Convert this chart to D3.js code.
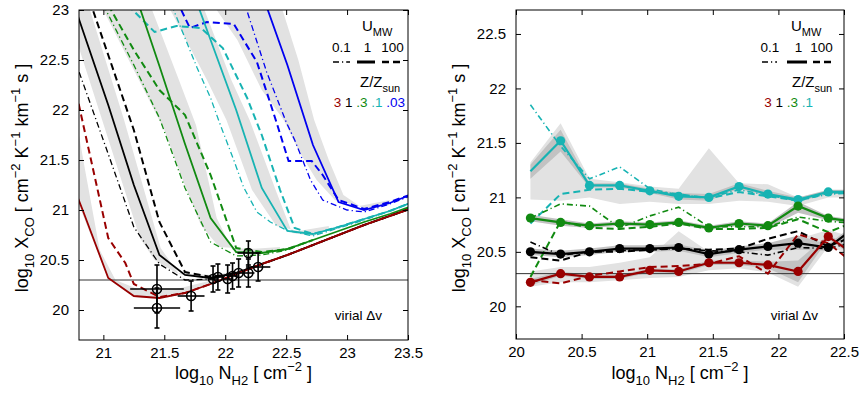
<!DOCTYPE html>
<html><head><meta charset="utf-8">
<script src="https://cdn.jsdelivr.net/npm/d3@7"></script>
<style>
body{margin:0;background:#fff}
text{font-family:"Liberation Sans",Arial,Helvetica,sans-serif;white-space:pre}
</style></head>
<body><svg id="c" width="862" height="393"></svg>
<script>
// ---------------- DATA ----------------
// tick labels
const leftTicksX = [21, 21.5, 22, 22.5, 23, 23.5];
const leftTicksY = [20, 20.5, 21, 21.5, 22, 22.5, 23];
const rightTicksX = [20, 20.5, 21, 21.5, 22, 22.5];
const rightTicksY = [20, 20.5, 21, 21.5, 22, 22.5];
const virialX = 20.3;

// LEFT panel model curves: [log N_H2, log X_CO]
const z3U1 = [[20.62,21.65],[20.83,21.0],[21.04,20.32],[21.25,20.14],[21.46,20.12],[21.67,20.17],[21.88,20.26],[22.09,20.36],[22.30,20.46],[22.51,20.55],[22.72,20.65],[22.93,20.75],[23.14,20.85],[23.35,20.94],[23.56,21.03]];
const z3U100 = [[20.70,22.6],[20.83,21.88],[21.04,20.72],[21.18,20.47],[21.25,20.26],[21.46,20.13],[21.67,20.17],[21.88,20.26],[22.09,20.36],[22.30,20.46],[22.51,20.55],[22.72,20.65],[22.93,20.75],[23.14,20.85],[23.35,20.94],[23.56,21.03]];
const z1U1 = [[20.62,23.55],[20.83,22.8],[21.04,22.05],[21.25,21.25],[21.46,20.55],[21.67,20.35],[21.88,20.32],[22.09,20.37],[22.30,20.46],[22.51,20.55],[22.72,20.65],[22.93,20.75],[23.14,20.85],[23.35,20.94],[23.56,21.03]];
const z1U100 = [[20.83,23.3],[21.04,22.55],[21.25,21.8],[21.46,20.88],[21.67,20.38],[21.88,20.33],[22.09,20.37],[22.30,20.46],[22.51,20.55],[22.72,20.65],[22.93,20.75],[23.14,20.85],[23.35,20.94],[23.56,21.03]];
const z1U01 = [[20.62,23.0],[20.83,22.28],[21.04,21.56],[21.25,20.83],[21.46,20.46],[21.67,20.3],[21.88,20.31],[22.09,20.37],[22.30,20.46]];
const z03U1 = [[21.25,23.2],[21.46,22.44],[21.67,21.66],[21.88,20.92],[22.09,20.58],[22.30,20.57],[22.51,20.61],[22.72,20.70],[22.93,20.79],[23.14,20.88],[23.35,20.96],[23.56,21.05]];
const z03U100 = [[21.04,23.05],[21.25,22.6],[21.46,22.2],[21.67,21.95],[21.88,21.35],[22.09,20.62],[22.30,20.58],[22.51,20.61],[22.72,20.70]];
const z03U01 = [[21.00,23.05],[21.25,22.45],[21.46,21.92],[21.67,21.22],[21.88,20.68],[22.09,20.54],[22.30,20.55],[22.51,20.60],[22.72,20.70]];
const z01U1 = [[21.67,23.4],[21.88,22.7],[22.09,22.0],[22.30,21.22],[22.51,20.79],[22.72,20.76],[22.93,20.83],[23.14,20.91],[23.35,20.99],[23.56,21.09]];
const z01U100 = [[21.20,23.05],[21.42,22.78],[21.60,22.84],[21.80,22.82],[21.98,22.62],[22.18,22.12],[22.30,21.75],[22.45,21.2],[22.57,20.82],[22.72,20.76],[22.93,20.83],[23.14,20.91],[23.35,20.99],[23.56,21.09]];
const z01U01 = [[21.56,23.05],[21.67,22.72],[21.77,22.42],[21.88,22.12],[21.96,21.85],[22.07,21.5],[22.15,21.23],[22.26,20.98],[22.37,20.88],[22.50,20.8],[22.72,20.74],[22.93,20.82],[23.14,20.9],[23.35,20.99],[23.56,21.09]];
const z003U1 = [[22.30,23.17],[22.51,22.45],[22.72,21.65],[22.93,21.08],[23.14,21.0],[23.35,21.07],[23.56,21.17]];
const z003U100 = [[21.60,23.1],[21.71,22.82],[21.85,22.88],[22.07,22.86],[22.26,22.48],[22.42,21.88],[22.52,21.49],[22.71,21.49],[22.80,21.35],[22.93,21.1],[23.14,21.01],[23.35,21.08],[23.56,21.17]];
const z003U01 = [[22.15,23.1],[22.34,22.38],[22.50,21.88],[22.57,21.7],[22.70,21.3],[22.80,21.1],[23.00,21.0],[23.14,20.98],[23.35,21.06],[23.56,21.16]];

// LEFT panel grey bands (upper/left edge, lower/right edge)
const bandZ3Up = [[20.72,22.3],[20.85,21.4],[20.97,20.6],[21.10,20.3],[21.30,20.2],[21.60,20.21],[21.90,20.3]];
const bandZ3Lo = [[20.75,21.2],[21.04,20.31],[21.25,20.13],[21.46,20.11],[21.67,20.16],[21.90,20.26]];
const bandZ1Up = [[20.70,23.0],[20.99,21.9],[21.30,20.72],[21.42,20.5],[21.60,20.37],[21.90,20.35],[22.10,20.39]];
const bandZ1Lo = [[20.89,23.0],[21.17,21.9],[21.47,20.62],[21.62,20.36],[21.85,20.31],[22.10,20.36]];
const bandZ03Up = [[21.00,23.0],[21.25,22.4],[21.50,21.8],[21.62,21.4],[21.80,20.85],[21.95,20.63],[22.20,20.61],[22.45,20.63]];
const bandZ03Lo = [[21.40,23.0],[21.62,22.3],[21.76,21.85],[21.93,20.92],[22.06,20.6],[22.25,20.56],[22.45,20.59]];
const bandZ01Up = [[21.55,23.0],[21.85,22.3],[22.01,21.9],[22.22,21.2],[22.42,20.84],[22.60,20.79],[22.85,20.84]];
const bandZ01Lo = [[21.83,23.0],[22.05,22.3],[22.20,21.9],[22.42,21.18],[22.55,20.77],[22.72,20.74],[22.85,20.8]];
const bandZ003Up = [[21.93,23.0],[22.10,22.7],[22.30,22.2],[22.48,21.9],[22.60,21.6],[22.75,21.3],[22.90,21.1],[23.10,21.04],[23.35,21.1]];
const bandZ003Lo = [[22.47,23.0],[22.60,22.5],[22.73,21.9],[22.85,21.5],[22.97,21.15],[23.15,21.0],[23.35,21.05]];

// LEFT panel observations
const obsN    = [21.44, 21.44, 21.72, 21.90, 21.94, 22.02, 22.06, 22.11, 22.19, 22.19, 22.27];
const obsX    = [20.21, 20.02, 20.14, 20.31, 20.33, 20.31, 20.34, 20.37, 20.37, 20.57, 20.43];
const obsNerr = [0.22, 0.19, 0.11, 0.04, 0.04, 0.04, 0.04, 0.05, 0.05, 0.09, 0.10];
const obsXerr = [0.24, 0.20, 0.15, 0.13, 0.13, 0.14, 0.13, 0.14, 0.14, 0.12, 0.14];

// RIGHT panel: shared N grid
const rN = [20.11, 20.34, 20.56, 20.79, 21.02, 21.24, 21.47, 21.70, 21.92, 22.15, 22.38, 22.61];
const cyanU1   = [21.24, 21.52, 21.11, 21.11, 21.06, 21.01, 21.00, 21.10, 21.03, 20.98, 21.05, 21.05];
const cyanU100 = [20.76, 21.03, 21.07, 21.08, 21.05, 21.03, 20.99, 21.05, 21.01, 20.97, 21.04, 21.05];
const cyanU01  = [21.85, 21.47, 21.17, 21.28, 21.08, 21.02, 21.00, 21.07, 21.02, 20.97, 21.03, 21.04];
const greenU1   = [20.81, 20.77, 20.74, 20.76, 20.75, 20.77, 20.72, 20.76, 20.74, 20.92, 20.81, 20.77];
const greenU100 = [20.27, 20.78, 20.72, 20.71, 20.73, 20.76, 20.71, 20.71, 20.72, 20.80, 20.68, 20.79];
const greenU01  = [20.81, 20.94, 20.92, 20.72, 20.83, 20.91, 20.73, 20.73, 20.73, 20.82, 20.78, 20.76];
const blackU1   = [20.50, 20.48, 20.50, 20.53, 20.53, 20.54, 20.48, 20.52, 20.55, 20.58, 20.54, 20.75];
const blackU100 = [20.45, 20.42, 20.50, 20.50, 20.52, 20.53, 20.52, 20.53, 20.62, 20.69, 20.55, 20.66];
const blackU01  = [20.59, 20.47, 20.50, 20.51, 20.52, 20.53, 20.51, 20.50, 20.47, 20.54, 20.53, 20.60];
const redU1   = [20.22, 20.30, 20.27, 20.27, 20.33, 20.32, 20.40, 20.40, 20.38, 20.32, 20.64, 20.45];
const redU100 = [20.24, 20.21, 20.28, 20.32, 20.36, 20.37, 20.39, 20.46, 20.30, 20.66, 20.58, 20.36];
// RIGHT panel bands
const cyanLightUp = [21.32, 21.68, 21.17, 21.14, 21.10, 21.08, 21.45, 21.13, 21.12, 21.00, 21.06, 21.06];
const cyanLightLo = [20.98, 20.97, 21.00, 20.94, 20.96, 20.94, 20.94, 20.97, 20.96, 20.92, 21.00, 21.00];
const cyanDarkUp  = [21.30, 21.62, 21.13, 21.13, 21.08, 21.04, 21.03, 21.13, 21.06, 21.00, 21.07, 21.07];
const cyanDarkLo  = [21.17, 21.42, 21.09, 21.09, 21.04, 20.98, 20.97, 21.08, 21.01, 20.96, 21.03, 21.03];
const greenDarkUp = [20.84, 20.80, 20.76, 20.78, 20.77, 20.79, 20.74, 20.78, 20.76, 20.96, 20.83, 20.79];
const greenDarkLo = [20.78, 20.74, 20.72, 20.74, 20.73, 20.75, 20.70, 20.74, 20.72, 20.86, 20.79, 20.75];
const blackDarkUp = [20.53, 20.51, 20.53, 20.56, 20.56, 20.57, 20.51, 20.55, 20.58, 20.65, 20.57, 20.78];
const blackDarkLo = [20.47, 20.45, 20.47, 20.50, 20.50, 20.51, 20.45, 20.49, 20.52, 20.52, 20.51, 20.72];
const redLightUp = [20.32, 20.36, 20.36, 20.40, 20.45, 20.69, 20.50, 20.50, 20.55, 20.62, 20.70, 20.62];
const redLightLo = [20.18, 20.22, 20.22, 20.24, 20.26, 20.27, 20.33, 20.35, 20.31, 20.18, 20.55, 20.45];
const redDarkUp = [20.25, 20.32, 20.29, 20.29, 20.35, 20.34, 20.42, 20.42, 20.41, 20.42, 20.66, 20.50];
const redDarkLo = [20.19, 20.28, 20.25, 20.25, 20.31, 20.30, 20.38, 20.38, 20.35, 20.22, 20.62, 20.42];

// ---------------- STYLE ----------------
const COL = {z3:'#990000', z1:'#000000', z03:'#118a11', z01:'#17b3b3', z003:'#0000f0'};
const LIGHT = '#e2e2e2', DARK = '#c2c2c2';
const DASH = {solid:null, dash:'7,4', dashdot:'6,3,1.2,3'};
const FONT = '"Liberation Sans",Arial,Helvetica,sans-serif';

const svg = d3.select('#c');

function makePanel(id, dx, dy, rx, ry){
  const x = d3.scaleLinear().domain(dx).range(rx);
  const y = d3.scaleLinear().domain(dy).range(ry);
  svg.append('clipPath').attr('id', id).append('rect')
    .attr('x', rx[0]).attr('y', ry[1]).attr('width', rx[1]-rx[0]).attr('height', ry[0]-ry[1]);
  const g = svg.append('g');
  const plot = g.append('g').attr('clip-path', `url(#${id})`);
  return {x, y, g, plot};
}

function drawAxes(P, tx, ty){
  const {x, y, g} = P;
  const fmt = d => String(d);
  const ax = [
    g.append('g').attr('transform', `translate(0,${y.range()[0]})`).call(d3.axisBottom(x).tickValues(tx).tickSize(-5).tickPadding(7).tickFormat(fmt)),
    g.append('g').attr('transform', `translate(0,${y.range()[1]})`).call(d3.axisTop(x).tickValues(tx).tickSize(-5).tickFormat('')),
    g.append('g').attr('transform', `translate(${x.range()[0]},0)`).call(d3.axisLeft(y).tickValues(ty).tickSize(-5).tickPadding(10).tickFormat(fmt)),
    g.append('g').attr('transform', `translate(${x.range()[1]},0)`).call(d3.axisRight(y).tickValues(ty).tickSize(-5).tickFormat(''))
  ];
  ax.forEach(a => {
    a.select('.domain').remove();
    a.attr('font-family', FONT).attr('font-size', 15);
    a.selectAll('.tick line').attr('stroke', '#000');
    a.selectAll('.tick text').attr('fill', '#000');
  });
  g.append('rect').attr('x', x.range()[0]).attr('y', y.range()[1])
    .attr('width', x.range()[1]-x.range()[0]).attr('height', y.range()[0]-y.range()[1])
    .attr('fill', 'none').attr('stroke', '#000').attr('stroke-width', 1);
}

function rich(sel, parts, base, small){
  let shift = 0;
  parts.forEach(p => {
    const target = p[1]==='sub' ? base*0.33 : p[1]==='sup' ? -base*0.42 : 0;
    sel.append('tspan').attr('dy', target-shift).attr('font-size', p[1] ? small : base).text(p[0]);
    shift = target;
  });
}

const xTitle = [['log'],['10','sub'],[' N'],['H2','sub'],[' [ cm'],['\u22122','sup'],[' ]']];
const yTitle = [['log'],['10','sub'],[' X'],['CO','sub'],[' [ cm'],['\u22122','sup'],[' K'],['\u22121','sup'],[' km'],['\u22121','sup'],[' s ]']];

function titles(P){
  const {x, y, g} = P;
  const cx = (x.range()[0]+x.range()[1])/2;
  const tx = g.append('text').attr('x', cx).attr('y', 379).attr('text-anchor','middle')
    .attr('font-family', FONT).attr('fill','#000');
  rich(tx, xTitle, 18, 13);
  const cy = 178;
  const ty = g.append('text').attr('transform', `translate(${x.range()[0]-51},${cy}) rotate(-90)`)
    .attr('text-anchor','middle').attr('font-family', FONT).attr('fill','#000');
  rich(ty, yTitle, 18, 13);
  g.append('text').attr('x', x.range()[1]-26).attr('y', 320).attr('text-anchor','end')
    .attr('font-family', FONT).attr('font-size', 13.5).text('virial \u0394v');
}

function legend(g, ux, numCenters, lineSpans, zx, zEnd, zList){
  const t = g.append('text').attr('x', ux).attr('y', 31).attr('font-family', FONT).attr('fill','#000');
  rich(t, [['U'],['MW','sub']], 15, 11);
  ['0.1','1','100'].forEach((s,i) => g.append('text').attr('x', numCenters[i]).attr('y', 52)
    .attr('text-anchor','middle').attr('font-family', FONT).attr('font-size', 13.5).text(s));
  const st = [['dashdot',1.3],['solid',3],['dash',2.5]];
  lineSpans.forEach((sp,i) => g.append('line').attr('x1', sp[0]).attr('x2', sp[1]).attr('y1', 62).attr('y2', 62)
    .attr('stroke','#000').attr('stroke-width', st[i][1]).attr('stroke-dasharray', DASH[st[i][0]]));
  const z = g.append('text').attr('x', zx).attr('y', 87).attr('font-family', FONT).attr('fill','#000');
  rich(z, [['Z/Z'],['sun','sub']], 15, 11);
  const n = g.append('text').attr('x', zEnd).attr('y', 107).attr('text-anchor','end')
    .attr('font-family', FONT).attr('font-size', 13.5);
  zList.forEach((p,i) => n.append('tspan').attr('fill', COL[p[1]]).text((i? ' ':'')+p[0]));
}

// ---------------- LEFT PANEL ----------------
const L = makePanel('clipL', [20.8, 23.5], [19.7, 23], [79, 408], [340, 10]);
{
  const {x, y, plot} = L;
  const area = (up, lo) => d3.line().x(d=>x(d[0])).y(d=>y(d[1]))(up.concat(lo.slice().reverse())) + 'Z';
  [[bandZ3Up,bandZ3Lo],[bandZ1Up,bandZ1Lo],[bandZ03Up,bandZ03Lo],[bandZ01Up,bandZ01Lo],[bandZ003Up,bandZ003Lo]]
    .forEach(b => plot.append('path').attr('d', area(b[0], b[1])).attr('fill', LIGHT));
  plot.append('line').attr('x1', x.range()[0]).attr('x2', x.range()[1]).attr('y1', y(virialX)).attr('y2', y(virialX))
    .attr('stroke', '#333').attr('stroke-width', 1);
  const line = d3.line().x(d=>x(d[0])).y(d=>y(d[1]));
  const series = [
    [z003U01,'z003','dashdot',1.3],[z003U100,'z003','dash',2],[z003U1,'z003','solid',1.8],
    [z01U01,'z01','dashdot',1.3],[z01U100,'z01','dash',2],[z01U1,'z01','solid',1.8],
    [z03U01,'z03','dashdot',1.3],[z03U100,'z03','dash',2],[z03U1,'z03','solid',1.8],
    [z1U01,'z1','dashdot',1.3],[z1U1,'z1','solid',1.8],[z1U100,'z1','dash',2],
    [z3U1,'z3','solid',1.8],[z3U100,'z3','dash',2]
  ];
  series.forEach(s => plot.append('path').attr('d', line(s[0])).attr('fill','none')
    .attr('stroke', COL[s[1]]).attr('stroke-width', s[3]).attr('stroke-dasharray', DASH[s[2]]));
  // observations
  const og = plot.append('g').attr('stroke','#000').attr('stroke-width',1.6).attr('fill','none');
  obsN.forEach((n,i) => {
    const cx = x(n), cy = y(obsX[i]);
    og.append('line').attr('x1', x(n-obsNerr[i])).attr('x2', x(n+obsNerr[i])).attr('y1', cy).attr('y2', cy);
    const yt = y(obsX[i]+obsXerr[i]), yb = y(obsX[i]-obsXerr[i]);
    og.append('line').attr('x1', cx).attr('x2', cx).attr('y1', yt).attr('y2', yb);
    og.append('line').attr('x1', cx-2.5).attr('x2', cx+2.5).attr('y1', yt).attr('y2', yt);
    og.append('line').attr('x1', cx-2.5).attr('x2', cx+2.5).attr('y1', yb).attr('y2', yb);
    og.append('circle').attr('cx', cx).attr('cy', cy).attr('r', 4.5);
  });
  drawAxes(L, leftTicksX, leftTicksY);
  titles(L);
  legend(L.g, 362, [341.5, 367.5, 392.5], [[333,350],[357,375],[382,403]], 360, 405,
    [['3','z3'],['1','z1'],['.3','z03'],['.1','z01'],['.03','z003']]);
}

// ---------------- RIGHT PANEL ----------------
const R = makePanel('clipR', [20, 22.5], [19.7, 22.72], [516, 844], [339, 10]);
{
  const {x, y, plot} = R;
  const band = d3.area().x((d,i)=>x(rN[i])).y0(d=>y(d[1])).y1(d=>y(d[0]));
  const zip = (a,b) => a.map((v,i)=>[v,b[i]]);
  [[redLightUp,redLightLo,LIGHT],[cyanLightUp,cyanLightLo,LIGHT],
   [redDarkUp,redDarkLo,DARK],[blackDarkUp,blackDarkLo,DARK],[greenDarkUp,greenDarkLo,DARK],[cyanDarkUp,cyanDarkLo,DARK]]
    .forEach(b => plot.append('path').attr('d', band(zip(b[0],b[1]))).attr('fill', b[2]));
  plot.append('line').attr('x1', x.range()[0]).attr('x2', x.range()[1]).attr('y1', y(virialX)).attr('y2', y(virialX))
    .attr('stroke', '#333').attr('stroke-width', 1);
  const line = d3.line().x((d,i)=>x(rN[i])).y(d=>y(d));
  const series = [
    [cyanU01,'z01','dashdot',1.6],[cyanU100,'z01','dash',2],
    [greenU01,'z03','dashdot',1.6],[greenU100,'z03','dash',2],
    [blackU01,'z1','dashdot',1.6],[blackU100,'z1','dash',2],
    [redU100,'z3','dash',2],
    [cyanU1,'z01','solid',2.2,1],[greenU1,'z03','solid',2.2,0],[blackU1,'z1','solid',2.2,0],[redU1,'z3','solid',2.2,0]
  ];
  series.forEach(s => {
    plot.append('path').attr('d', line(s[0])).attr('fill','none')
      .attr('stroke', COL[s[1]]).attr('stroke-width', s[3]).attr('stroke-dasharray', DASH[s[2]]);
    if (s[4] !== undefined) {
      plot.selectAll(null).data(s[0].slice(0, 11)).enter().filter((d,i)=>i>=s[4])
        .append('circle').attr('cx', (d,i)=>x(rN[i+s[4]])).attr('cy', d=>y(d)).attr('r', 4.6).attr('fill', COL[s[1]]);
    }
  });
  drawAxes(R, rightTicksX, rightTicksY);
  titles(R);
  legend(R.g, 791, [770, 798.5, 821.5], [[762,777],[787,807],[813,833]], 792, 813,
    [['3','z3'],['1','z1'],['.3','z03'],['.1','z01']]);
}
</script></body></html>
